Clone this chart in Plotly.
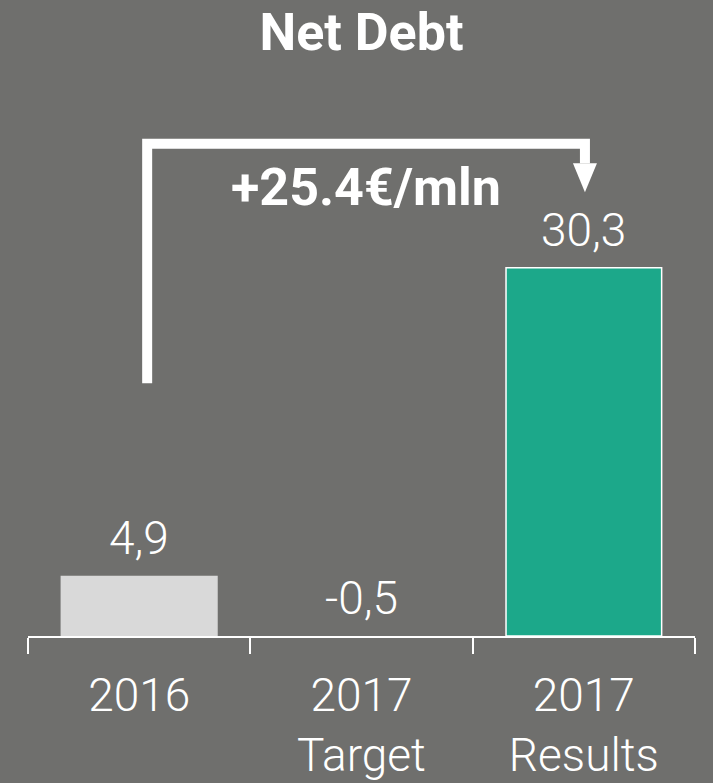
import plotly.graph_objects as go

# ---- data ----
categories = ["2016", "2017<br>Target", "2017<br>Results"]
values = [4.9, -0.5, 30.3]
value_labels = ["4,9", "-0,5", "30,3"]
bar_colors = ["#d9d9d9", "rgba(0,0,0,0)", "#1ca88a"]
bar_line_colors = ["#d9d9d9", "rgba(0,0,0,0)", "#ffffff"]
delta_label = "+25.4€/mln"
title_text = "Net Debt"

BG = "#6f6f6d"
FONT = "Roboto"

fig = go.Figure()
fig.add_trace(go.Bar(
    x=list(range(len(categories))),
    y=values,
    width=0.7,
    marker=dict(color=bar_colors, line=dict(color=bar_line_colors, width=1.5)),
    hoverinfo="skip",
))

# value labels above bars (or above axis for negative)
for i, (v, t) in enumerate(zip(values, value_labels)):
    fig.add_annotation(
        x=i, y=max(v, 0), xref="x", yref="y",
        text=t, showarrow=False, yanchor="bottom", yshift=9,
        font=dict(family=FONT, size=46, color="white", weight=300),
    )

# bracket arrow from 2016 to 2017 Results
x_start, x_end = 0.036, 2.005
y_low, y_top, y_head, y_tip = 20.8, 40.5, 38.9, 36.5
hw = 0.054
fig.add_shape(
    type="path", xref="x", yref="y",
    path=f"M {x_start},{y_low} L {x_start},{y_top} L {x_end},{y_top} L {x_end},{y_head}",
    line=dict(color="white", width=10),
)
fig.add_shape(
    type="path", xref="x", yref="y",
    path=f"M {x_end-hw},{y_head} L {x_end+hw},{y_head} L {x_end},{y_tip} Z",
    line=dict(color="white", width=0), fillcolor="white",
)
fig.add_annotation(
    x=1.02, y=36.9, xref="x", yref="y", text=f"<b>{delta_label}</b>",
    showarrow=False, font=dict(family=FONT, size=52, color="white"),
)

fig.update_layout(
    width=713, height=783,
    paper_bgcolor=BG, plot_bgcolor=BG,
    margin=dict(l=28, r=18, t=89, b=147, autoexpand=False),
    showlegend=False,
    bargap=0.3,
    title=dict(text=f"<b>{title_text}</b>", x=0.5, xref="paper",
               y=1 - 32 / 783, yref="container", yanchor="middle", xanchor="center",
               font=dict(family=FONT, size=52, color="white")),
    xaxis=dict(
        type="linear", range=[-0.5, 2.5], automargin=False,
        tickmode="array", tickvals=list(range(len(categories))), ticktext=categories,
        ticks="", showline=True, linecolor="white", linewidth=2,
        showgrid=False, zeroline=False,
        ticklabelstandoff=18,
        minor=dict(tickmode="array", tickvals=[-0.5, 0.5, 1.5, 2.5], ticks="outside",
                   ticklen=16, tickwidth=2, tickcolor="white", showgrid=False),
        tickfont=dict(family=FONT, size=46, color="white", weight=300),
        fixedrange=True,
    ),
    yaxis=dict(range=[0, 45], visible=False, automargin=False,
               showgrid=False, zeroline=False, fixedrange=True),
)

fig.write_html(
    "out.html",
    config={"displayModeBar": False},
    post_script="document.body.style.margin='0';document.body.style.overflow='hidden';",
)
